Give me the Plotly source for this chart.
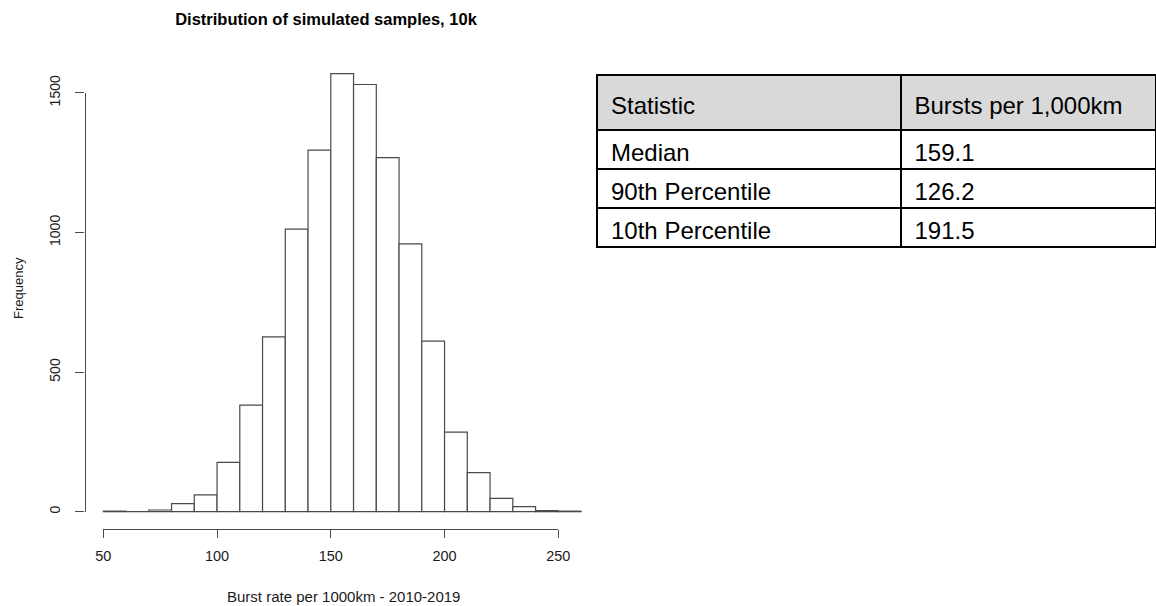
import plotly.graph_objects as go

# ---------------- data ----------------
bin_lefts = [50, 60, 70, 80, 90, 100, 110, 120, 130, 140, 150,
             160, 170, 180, 190, 200, 210, 220, 230, 240, 250]
bin_width = 10
counts = [2, 0, 6, 29, 60, 177, 382, 626, 1012, 1295, 1569,
          1530, 1268, 959, 611, 285, 140, 48, 18, 4, 2]
x_ticks = [50, 100, 150, 200, 250]
y_ticks = [0, 500, 1000, 1500]

table_header = ["Statistic", "Bursts per 1,000km"]
stat_names = ["Median", "90th Percentile", "10th Percentile"]
stat_values = ["159.1", "126.2", "191.5"]

title_text = "Distribution of simulated samples, 10k"
x_title = "Burst rate per 1000km - 2010-2019"
y_title = "Frequency"

# ---------------- layout geometry (pixels) ----------------
W, H = 1156, 606
X50_PX, XPU = 103.3, 2.275      # pixel of x=50, pixels per x unit
Y0_PX, YPU = 511.7, 0.2792      # pixel of y=0, pixels per y unit
PL, PR, PT, PB = 90, 592, 50, 548  # main plot area

FONT = "Liberation Sans, Arial, Helvetica, sans-serif"
AX = "#4a4a4a"
TXT = "#1a1a1a"

# table geometry (pixels) - the table runs off the right edge of the image
TBL_L, TBL_R, TBL_T = 597, 1158, 75
COL1_W = 304
HDR_H, ROW_H = 55, 39
HDR_SHIFT, ROW_SHIFT, TEXT_DX = 13, 5, 6
TBL_FONT = dict(family=FONT, size=24, color="black")
CLEAR = "rgba(0,0,0,0)"


def xpx(v):
    return X50_PX + (v - 50) * XPU


def ypx(v):
    return Y0_PX - v * YPU


def tdomain(top, dx=0):
    left = TBL_L + dx
    right = min(TBL_R + dx, W)
    return dict(x=[left / W, right / W],
                y=[(H - (top + 200)) / H, (H - top) / H])


def colw(dx=0):
    # keep the column divider at the same place when the domain is narrowed
    left = TBL_L + dx
    right = min(TBL_R + dx, W)
    return [COL1_W, (right - left) - COL1_W]


centres = [l + bin_width / 2 for l in bin_lefts]

fig = go.Figure()
fig.add_trace(go.Bar(
    x=centres, y=counts, width=bin_width,
    marker=dict(color="white", line=dict(color=AX, width=1.2)),
    xaxis="x", yaxis="y", showlegend=False, hoverinfo="x+y",
))
# dummy trace so the R-style detached axes are drawn
fig.add_trace(go.Scatter(x=[None], y=[None], xaxis="x2", yaxis="y2",
                         showlegend=False, hoverinfo="skip"))

blank_cells = [["" for _ in stat_names], ["" for _ in stat_values]]
# grid + fills
fig.add_trace(go.Table(
    domain=tdomain(TBL_T), columnwidth=colw(),
    header=dict(values=["", ""], fill_color="#d9d9d9",
                line=dict(color="black", width=2), height=HDR_H, font=TBL_FONT),
    cells=dict(values=blank_cells, fill_color="white",
               line=dict(color="black", width=2), height=ROW_H, font=TBL_FONT),
))
# header text (vertically centred in the taller header row)
fig.add_trace(go.Table(
    domain=tdomain(TBL_T + HDR_SHIFT, TEXT_DX), columnwidth=colw(TEXT_DX),
    header=dict(values=table_header, fill_color=CLEAR, align="left",
                line=dict(color=CLEAR, width=0), height=HDR_H, font=TBL_FONT),
    cells=dict(values=blank_cells, fill_color=CLEAR,
               line=dict(color=CLEAR, width=0), height=ROW_H, font=TBL_FONT),
))
# body text
fig.add_trace(go.Table(
    domain=tdomain(TBL_T + ROW_SHIFT, TEXT_DX), columnwidth=colw(TEXT_DX),
    header=dict(values=["", ""], fill_color=CLEAR,
                line=dict(color=CLEAR, width=0), height=HDR_H, font=TBL_FONT),
    cells=dict(values=[stat_names, stat_values], fill_color=CLEAR, align="left",
               line=dict(color=CLEAR, width=0), height=ROW_H, font=TBL_FONT),
))

fig.update_layout(
    width=W, height=H,
    margin=dict(l=0, r=0, t=0, b=0, autoexpand=False),
    paper_bgcolor="white", plot_bgcolor="rgba(0,0,0,0)",
    font=dict(family=FONT, color=TXT),
    title=dict(text="<b>" + title_text + "</b>", x=326 / W, xanchor="center",
               y=(H - 19) / H, yanchor="middle", automargin=False,
               font=dict(family=FONT, size=16.5, color="black")),
    xaxis=dict(domain=[PL / W, PR / W],
               range=[50 + (PL - X50_PX) / XPU, 50 + (PR - X50_PX) / XPU],
               visible=False, fixedrange=True, automargin=False),
    yaxis=dict(domain=[(H - PB) / H, (H - PT) / H],
               range=[-(PB - Y0_PX) / YPU, (Y0_PX - PT) / YPU],
               visible=False, fixedrange=True, automargin=False),
    xaxis2=dict(domain=[xpx(50) / W, xpx(250) / W], range=[50, 250],
                anchor="free", position=(H - 529.3) / H, side="bottom",
                showline=True, linecolor=AX, linewidth=1.2,
                ticks="outside", ticklen=8, tickcolor=AX, tickwidth=1.2,
                tickvals=x_ticks, ticktext=[str(t) for t in x_ticks],
                ticklabelstandoff=5,
                tickfont=dict(family=FONT, size=14.5, color=TXT),
                showgrid=False, zeroline=False, fixedrange=True, automargin=False),
    yaxis2=dict(domain=[(H - ypx(0)) / H, (H - ypx(1500)) / H], range=[0, 1500],
                anchor="free", position=84.5 / W, side="left",
                showline=True, linecolor=AX, linewidth=1.2,
                ticks="outside", ticklen=9, tickcolor=AX, tickwidth=1.2,
                tickvals=y_ticks, ticktext=[str(t) for t in y_ticks],
                tickangle=-90, ticklabelstandoff=10,
                tickfont=dict(family=FONT, size=14, color=TXT),
                showgrid=False, zeroline=False, fixedrange=True, automargin=False),
    annotations=[
        dict(text=x_title, xref="paper", yref="paper", x=343 / W, y=(H - 596) / H,
             xanchor="center", yanchor="middle", showarrow=False,
             font=dict(family=FONT, size=15, color=TXT)),
        dict(text=y_title, xref="paper", yref="paper", x=18 / W, y=(H - 288) / H,
             xanchor="center", yanchor="middle", showarrow=False, textangle=-90,
             font=dict(family=FONT, size=13, color=TXT)),
    ],
)

fig.write_html("out.html", config={"displayModeBar": False},
               post_script="document.body.style.margin='0';")
